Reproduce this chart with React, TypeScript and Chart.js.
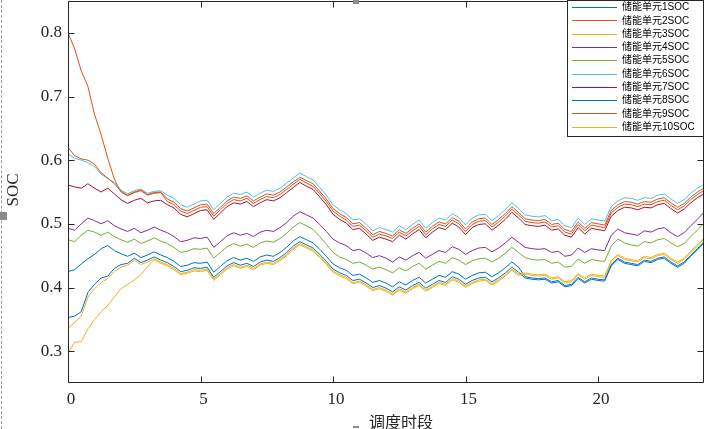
import React, { useEffect, useRef } from "react";
import { Chart, registerables } from "chart.js";

Chart.register(...registerables);

const TIMES = [
  0, 0.25, 0.5, 0.75, 1, 1.25, 1.5, 1.75, 2, 2.25, 2.5, 2.75, 3, 3.25, 3.5, 3.75,
  4, 4.25, 4.5, 4.75, 5, 5.25, 5.5, 5.75, 6, 6.25, 6.5, 6.75, 7, 7.25, 7.5, 7.75,
  8, 8.25, 8.5, 8.75, 9, 9.25, 9.5, 9.75, 10, 10.25, 10.5, 10.75, 11, 11.25, 11.5, 11.75,
  12, 12.25, 12.5, 12.75, 13, 13.25, 13.5, 13.75, 14, 14.25, 14.5, 14.75, 15, 15.25, 15.5, 15.75,
  16, 16.25, 16.5, 16.75, 17, 17.25, 17.5, 17.75, 18, 18.25, 18.5, 18.75, 19, 19.25, 19.5, 19.75,
  20, 20.25, 20.5, 20.75, 21, 21.25, 21.5, 21.75, 22, 22.25, 22.5, 22.75, 23, 23.25, 23.5, 23.75, 24,
];

const X_TICKS = [0, 5, 10, 15, 20];
const Y_TICKS = [0.3, 0.4, 0.5, 0.6, 0.7, 0.8];

const LABELS = [
  "储能单元1SOC", "储能单元2SOC", "储能单元3SOC", "储能单元4SOC", "储能单元5SOC",
  "储能单元6SOC", "储能单元7SOC", "储能单元8SOC", "储能单元9SOC", "储能单元10SOC",
];

const COLORS = [
  "#0072BD", "#D95319", "#EDB120", "#7E2F8E", "#77AC30",
  "#4DBEEE", "#A2142F", "#0072BD", "#D95319", "#EDB120",
];

const SOC1 = [
  0.425, 0.428, 0.437, 0.445, 0.452, 0.461, 0.466, 0.458, 0.453, 0.449, 0.454, 0.447, 0.451, 0.456, 0.451, 0.447,
  0.441, 0.433, 0.435, 0.439, 0.438, 0.440, 0.424, 0.433, 0.442, 0.447, 0.443, 0.446, 0.441, 0.448, 0.451, 0.449,
  0.455, 0.463, 0.473, 0.480, 0.475, 0.470, 0.460, 0.449, 0.437, 0.431, 0.427, 0.419, 0.421, 0.415, 0.408, 0.411,
  0.407, 0.401, 0.409, 0.404, 0.411, 0.416, 0.407, 0.413, 0.419, 0.416, 0.425, 0.421, 0.413, 0.419, 0.423, 0.424,
  0.417, 0.423, 0.431, 0.440, 0.432, 0.417, 0.415, 0.414, 0.415, 0.409, 0.411, 0.403, 0.405, 0.416, 0.409, 0.415,
  0.413, 0.412, 0.436, 0.446, 0.440, 0.438, 0.436, 0.443, 0.441, 0.446, 0.448, 0.440, 0.434, 0.440, 0.451, 0.461, 0.472,
];

const SOC2 = [
  0.800, 0.775, 0.740, 0.716, 0.672, 0.640, 0.603, 0.570, 0.550, 0.544, 0.549, 0.552, 0.545, 0.548, 0.549, 0.535,
  0.530, 0.520, 0.516, 0.521, 0.526, 0.527, 0.512, 0.522, 0.532, 0.538, 0.536, 0.540, 0.532, 0.538, 0.543, 0.541,
  0.546, 0.554, 0.562, 0.570, 0.564, 0.559, 0.547, 0.535, 0.520, 0.512, 0.506, 0.496, 0.498, 0.489, 0.479, 0.484,
  0.481, 0.477, 0.487, 0.481, 0.489, 0.496, 0.483, 0.492, 0.499, 0.496, 0.506, 0.500, 0.488, 0.499, 0.504, 0.505,
  0.495, 0.503, 0.512, 0.523, 0.514, 0.504, 0.502, 0.501, 0.503, 0.495, 0.497, 0.487, 0.484, 0.499, 0.489, 0.498,
  0.496, 0.494, 0.517, 0.526, 0.531, 0.530, 0.527, 0.531, 0.530, 0.535, 0.537, 0.529, 0.522, 0.528, 0.538, 0.546, 0.552,
];

const SOC3 = [
  0.336, 0.345, 0.355, 0.385, 0.398, 0.408, 0.414, 0.425, 0.432, 0.435, 0.443, 0.436, 0.440, 0.445, 0.440, 0.436,
  0.430, 0.422, 0.424, 0.428, 0.427, 0.429, 0.413, 0.422, 0.431, 0.436, 0.432, 0.435, 0.430, 0.437, 0.440, 0.438,
  0.444, 0.452, 0.462, 0.469, 0.464, 0.459, 0.449, 0.438, 0.426, 0.420, 0.416, 0.408, 0.410, 0.404, 0.397, 0.400,
  0.396, 0.390, 0.398, 0.393, 0.400, 0.405, 0.396, 0.402, 0.408, 0.405, 0.414, 0.410, 0.402, 0.408, 0.412, 0.413,
  0.406, 0.412, 0.420, 0.429, 0.421, 0.423, 0.421, 0.420, 0.421, 0.415, 0.417, 0.409, 0.411, 0.422, 0.415, 0.421,
  0.419, 0.418, 0.442, 0.452, 0.446, 0.444, 0.442, 0.449, 0.447, 0.452, 0.454, 0.446, 0.440, 0.446, 0.457, 0.467, 0.478,
];

const SOC4 = [
  0.493, 0.490, 0.500, 0.509, 0.505, 0.500, 0.505, 0.497, 0.492, 0.488, 0.493, 0.486, 0.490, 0.495, 0.490, 0.486,
  0.480, 0.472, 0.474, 0.478, 0.477, 0.479, 0.463, 0.472, 0.481, 0.486, 0.482, 0.485, 0.480, 0.487, 0.490, 0.488,
  0.494, 0.502, 0.512, 0.519, 0.514, 0.509, 0.499, 0.488, 0.476, 0.470, 0.466, 0.458, 0.460, 0.454, 0.447, 0.450,
  0.446, 0.440, 0.448, 0.443, 0.450, 0.455, 0.446, 0.452, 0.458, 0.455, 0.464, 0.460, 0.452, 0.458, 0.462, 0.463,
  0.456, 0.462, 0.470, 0.479, 0.471, 0.463, 0.461, 0.460, 0.461, 0.455, 0.457, 0.449, 0.451, 0.462, 0.455, 0.461,
  0.459, 0.458, 0.482, 0.492, 0.486, 0.484, 0.482, 0.489, 0.487, 0.492, 0.494, 0.486, 0.480, 0.486, 0.497, 0.507, 0.518,
];

const SOC5 = [
  0.475, 0.472, 0.482, 0.490, 0.487, 0.482, 0.487, 0.480, 0.475, 0.471, 0.476, 0.469, 0.473, 0.478, 0.473, 0.469,
  0.463, 0.455, 0.457, 0.461, 0.460, 0.462, 0.446, 0.455, 0.464, 0.469, 0.465, 0.468, 0.463, 0.470, 0.473, 0.471,
  0.477, 0.485, 0.495, 0.502, 0.497, 0.491, 0.480, 0.468, 0.455, 0.448, 0.444, 0.438, 0.440, 0.435, 0.429, 0.432,
  0.428, 0.423, 0.431, 0.426, 0.433, 0.438, 0.429, 0.435, 0.441, 0.438, 0.447, 0.443, 0.436, 0.442, 0.445, 0.446,
  0.440, 0.446, 0.454, 0.463, 0.455, 0.447, 0.444, 0.443, 0.444, 0.438, 0.440, 0.432, 0.433, 0.445, 0.438, 0.444,
  0.442, 0.441, 0.465, 0.476, 0.470, 0.467, 0.465, 0.472, 0.470, 0.475, 0.477, 0.470, 0.464, 0.469, 0.480, 0.490, 0.501,
];

const SOC6 = [
  0.610, 0.603, 0.600, 0.596, 0.590, 0.578, 0.571, 0.565, 0.553, 0.547, 0.552, 0.555, 0.548, 0.551, 0.552, 0.545,
  0.540, 0.530, 0.526, 0.531, 0.536, 0.537, 0.522, 0.532, 0.542, 0.548, 0.546, 0.550, 0.542, 0.548, 0.553, 0.551,
  0.556, 0.564, 0.572, 0.580, 0.574, 0.569, 0.557, 0.545, 0.530, 0.522, 0.516, 0.506, 0.508, 0.499, 0.489, 0.494,
  0.491, 0.487, 0.497, 0.491, 0.499, 0.506, 0.493, 0.502, 0.509, 0.506, 0.516, 0.510, 0.498, 0.509, 0.514, 0.515,
  0.505, 0.513, 0.522, 0.533, 0.524, 0.514, 0.512, 0.511, 0.513, 0.505, 0.507, 0.497, 0.494, 0.509, 0.499, 0.508,
  0.506, 0.504, 0.527, 0.536, 0.541, 0.540, 0.537, 0.541, 0.540, 0.545, 0.547, 0.539, 0.532, 0.538, 0.548, 0.556, 0.562,
];

const SOC7 = [
  0.561, 0.558, 0.556, 0.563, 0.556, 0.550, 0.556, 0.547, 0.538, 0.532, 0.537, 0.540, 0.533, 0.536, 0.537, 0.530,
  0.525, 0.515, 0.511, 0.516, 0.521, 0.522, 0.507, 0.517, 0.527, 0.533, 0.531, 0.535, 0.527, 0.533, 0.538, 0.536,
  0.541, 0.549, 0.557, 0.565, 0.559, 0.554, 0.542, 0.530, 0.515, 0.507, 0.501, 0.491, 0.493, 0.484, 0.474, 0.479,
  0.476, 0.472, 0.482, 0.476, 0.484, 0.491, 0.478, 0.487, 0.494, 0.491, 0.501, 0.495, 0.483, 0.494, 0.499, 0.500,
  0.490, 0.498, 0.507, 0.518, 0.509, 0.499, 0.497, 0.496, 0.498, 0.490, 0.492, 0.482, 0.479, 0.494, 0.484, 0.493,
  0.491, 0.489, 0.512, 0.521, 0.526, 0.525, 0.522, 0.526, 0.525, 0.530, 0.532, 0.524, 0.517, 0.523, 0.533, 0.541, 0.547,
];

const SOC8 = [
  0.353, 0.355, 0.362, 0.392, 0.405, 0.415, 0.418, 0.430, 0.436, 0.438, 0.446, 0.439, 0.443, 0.448, 0.443, 0.439,
  0.433, 0.425, 0.427, 0.431, 0.430, 0.432, 0.416, 0.425, 0.434, 0.439, 0.435, 0.438, 0.433, 0.440, 0.443, 0.441,
  0.447, 0.455, 0.465, 0.472, 0.467, 0.462, 0.452, 0.441, 0.429, 0.423, 0.419, 0.411, 0.413, 0.407, 0.400, 0.403,
  0.399, 0.393, 0.401, 0.396, 0.403, 0.408, 0.399, 0.405, 0.411, 0.408, 0.417, 0.413, 0.405, 0.411, 0.415, 0.416,
  0.409, 0.415, 0.423, 0.432, 0.424, 0.415, 0.413, 0.412, 0.413, 0.407, 0.409, 0.401, 0.403, 0.414, 0.407, 0.413,
  0.411, 0.410, 0.434, 0.444, 0.438, 0.436, 0.434, 0.441, 0.439, 0.444, 0.446, 0.438, 0.432, 0.438, 0.449, 0.459, 0.470,
];

const SOC9 = [
  0.620, 0.607, 0.602, 0.600, 0.594, 0.580, 0.572, 0.563, 0.551, 0.545, 0.550, 0.553, 0.546, 0.549, 0.550, 0.539,
  0.534, 0.524, 0.520, 0.525, 0.530, 0.531, 0.516, 0.526, 0.536, 0.542, 0.540, 0.544, 0.536, 0.542, 0.547, 0.545,
  0.550, 0.558, 0.566, 0.573, 0.568, 0.563, 0.551, 0.539, 0.524, 0.516, 0.510, 0.500, 0.502, 0.493, 0.483, 0.488,
  0.485, 0.481, 0.491, 0.485, 0.493, 0.500, 0.487, 0.496, 0.503, 0.500, 0.510, 0.504, 0.492, 0.503, 0.508, 0.509,
  0.499, 0.507, 0.516, 0.527, 0.518, 0.508, 0.506, 0.505, 0.507, 0.499, 0.501, 0.491, 0.488, 0.503, 0.493, 0.502,
  0.500, 0.498, 0.521, 0.530, 0.535, 0.534, 0.531, 0.535, 0.534, 0.539, 0.541, 0.533, 0.526, 0.532, 0.542, 0.550, 0.556,
];

const SOC10 = [
  0.298, 0.314, 0.315, 0.335, 0.350, 0.362, 0.372, 0.385, 0.398, 0.405, 0.412, 0.420, 0.433, 0.443, 0.438, 0.434,
  0.428, 0.420, 0.422, 0.426, 0.425, 0.427, 0.411, 0.420, 0.429, 0.434, 0.430, 0.433, 0.428, 0.435, 0.438, 0.436,
  0.442, 0.450, 0.460, 0.467, 0.462, 0.457, 0.447, 0.436, 0.424, 0.418, 0.414, 0.406, 0.408, 0.402, 0.395, 0.398,
  0.394, 0.388, 0.396, 0.391, 0.398, 0.403, 0.394, 0.400, 0.406, 0.403, 0.412, 0.408, 0.400, 0.406, 0.410, 0.411,
  0.404, 0.410, 0.418, 0.427, 0.419, 0.421, 0.419, 0.418, 0.419, 0.413, 0.415, 0.407, 0.409, 0.420, 0.413, 0.419,
  0.417, 0.416, 0.440, 0.450, 0.444, 0.442, 0.440, 0.447, 0.445, 0.450, 0.452, 0.444, 0.438, 0.444, 0.455, 0.465, 0.476,
];

const SERIES = [SOC1, SOC2, SOC3, SOC4, SOC5, SOC6, SOC7, SOC8, SOC9, SOC10];

const X_TITLE = "调度时段";
const Y_TITLE = "SOC";

const AXIS_COLOR = "#262626";
const TICK_FONT = '"Liberation Serif", "Times New Roman", serif';

const framePlugin = {
  id: "matlabFrame",
  afterDraw(chart: any) {
    const { ctx, chartArea: a, scales } = chart;
    ctx.save();
    ctx.strokeStyle = AXIS_COLOR;
    ctx.lineWidth = 1;
    const L = Math.round(a.left) + 0.5;
    const R = Math.round(a.right) - 0.5;
    const T = Math.round(a.top) + 0.5;
    const B = Math.round(a.bottom) - 0.5;
    ctx.beginPath();
    ctx.rect(L, T, R - L, B - T);
    const tl = 6;
    X_TICKS.forEach((v) => {
      const px = Math.round(scales.x.getPixelForValue(v)) + 0.5;
      ctx.moveTo(px, B);
      ctx.lineTo(px, B - tl);
      ctx.moveTo(px, T);
      ctx.lineTo(px, T + tl);
    });
    Y_TICKS.forEach((v) => {
      const py = Math.round(scales.y.getPixelForValue(v)) + 0.5;
      ctx.moveTo(L, py);
      ctx.lineTo(L + tl, py);
      ctx.moveTo(R, py);
      ctx.lineTo(R - tl, py);
    });
    ctx.stroke();

    ctx.fillStyle = AXIS_COLOR;
    ctx.font = '16px "Noto Sans CJK SC", sans-serif';
    ctx.textAlign = "center";
    ctx.textBaseline = "middle";
    ctx.fillText(X_TITLE, (a.left + a.right) / 2 + 15, 422);
    ctx.save();
    ctx.translate(14, (a.top + a.bottom) / 2 - 2);
    ctx.rotate(-Math.PI / 2);
    ctx.font = "17px " + TICK_FONT;
    ctx.fillText(Y_TITLE, 0, 0);
    ctx.restore();

    const bx = 567.5, by = 0.5, bw = 136, bh = 136;
    ctx.fillStyle = "#ffffff";
    ctx.fillRect(bx, by, bw, bh);
    ctx.strokeStyle = AXIS_COLOR;
    ctx.lineWidth = 1;
    ctx.strokeRect(bx, by, bw, bh);
    ctx.font = '10px "Liberation Sans", "Noto Sans CJK SC", sans-serif';
    ctx.textAlign = "left";
    ctx.textBaseline = "middle";
    LABELS.forEach((label, i) => {
      const y = 7 + i * 13.3;
      ctx.strokeStyle = COLORS[i];
      ctx.lineWidth = 1.2;
      ctx.beginPath();
      ctx.moveTo(572, Math.round(y) + 0.5);
      ctx.lineTo(617, Math.round(y) + 0.5);
      ctx.stroke();
      ctx.fillStyle = "#000000";
      ctx.fillText(label, 622, y + 0.5);
    });
    ctx.restore();
  },
};

export default function App() {
  const ref = useRef<HTMLCanvasElement>(null);
  useEffect(() => {
    const canvas = ref.current;
    if (!canvas) return;
    const datasets = SERIES.map((s, i) => ({
      label: LABELS[i],
      data: TIMES.map((t, j) => ({ x: t, y: s[j] })),
      borderColor: COLORS[i],
      backgroundColor: COLORS[i],
      borderWidth: 1,
      pointRadius: 0,
      tension: 0,
      fill: false,
      order: 10 - i,
    }));
    const chart = new Chart(canvas, {
      type: "line",
      data: { datasets },
      options: {
        animation: false,
        responsive: false,
        events: [],
        layout: { padding: { top: 1, right: 2, left: 0, bottom: 0 } },
        plugins: { legend: { display: false }, tooltip: { enabled: false } },
        scales: {
          x: {
            type: "linear",
            min: 0,
            max: 24,
            grid: { display: false, drawTicks: false },
            border: { display: false },
            afterBuildTicks: (s: any) => {
              s.ticks = X_TICKS.map((v) => ({ value: v }));
            },
            afterFit: (s: any) => {
              s.height = 46;
              s.paddingLeft = 0;
              s.paddingRight = 0;
            },
            ticks: {
              color: AXIS_COLOR,
              font: { family: TICK_FONT, size: 17 },
              padding: 6,
              labelOffset: 3,
              maxRotation: 0,
              callback: (v: any) => String(v),
            },
          },
          y: {
            type: "linear",
            min: 0.25,
            max: 0.85,
            grid: { display: false, drawTicks: false },
            border: { display: false },
            afterBuildTicks: (s: any) => {
              s.ticks = Y_TICKS.map((v) => ({ value: v }));
            },
            afterFit: (s: any) => {
              s.width = 68;
              s.paddingTop = 0;
              s.paddingBottom = 0;
            },
            ticks: {
              color: AXIS_COLOR,
              font: { family: TICK_FONT, size: 17 },
              padding: 6,
              callback: (v: any) => Number(v).toFixed(1),
            },
          },
        },
      },
      plugins: [framePlugin],
    } as any);
    return () => chart.destroy();
  }, []);

  return (
    <div style={{ position: "fixed", left: 0, top: 0, width: 706, height: 429, background: "#fff", overflow: "hidden" }}>
      <canvas ref={ref} width={706} height={429} style={{ display: "block", width: 706, height: 429 }} />
      <div style={{ position: "absolute", left: 1, top: 0, width: 0, height: 429, borderLeft: "1px dashed #9a9a9a" }} />
      <div style={{ position: "absolute", left: 0, top: 212, width: 7, height: 8, background: "#8c8c8c" }} />
      <div style={{ position: "absolute", left: 353, top: 0, width: 6, height: 4, background: "#8c8c8c" }} />
      <div style={{ position: "absolute", left: 353, top: 426, width: 6, height: 2, background: "#8c8c8c" }} />
    </div>
  );
}
